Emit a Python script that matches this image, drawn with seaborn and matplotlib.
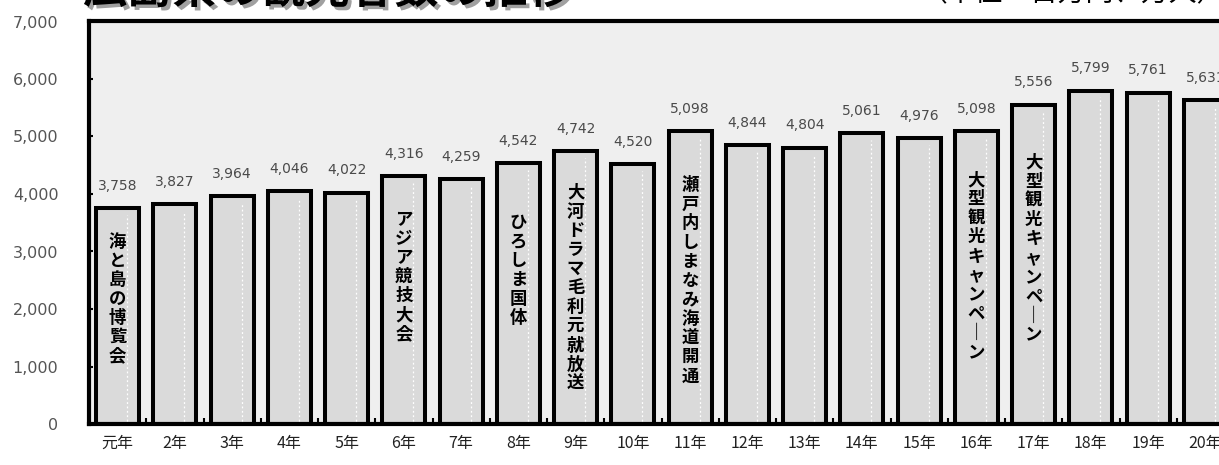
import matplotlib
matplotlib.use("Agg")
import matplotlib.pyplot as plt
import matplotlib.patheffects as pe
from matplotlib.ticker import FixedLocator, FuncFormatter
import seaborn as sns
import pandas as pd

# 年別の観光客数（万人）
years = ["元年", "2年", "3年", "4年", "5年", "6年", "7年", "8年", "9年", "10年",
         "11年", "12年", "13年", "14年", "15年", "16年", "17年", "18年", "19年", "20年"]
visitors = [3758, 3827, 3964, 4046, 4022, 4316, 4259, 4542, 4742, 4520,
            5098, 4844, 4804, 5061, 4976, 5098, 5556, 5799, 5761, 5631]

# 主なイベント
event_years = ["元年", "6年", "8年", "9年", "11年", "16年", "17年"]
event_names = ["海と島の博覧会", "アジア競技大会", "ひろしま国体", "大河ドラマ毛利元就放送",
               "瀬戸内しまなみ海道開通", "大型観光キャンペーン", "大型観光キャンペーン"]

title = "広島県の観光客数の推移"
unit_note = "（単位：百万円、万人）"
y_ticks = [0, 1000, 2000, 3000, 4000, 5000, 6000, 7000]

sns.set_theme(style="white")
plt.rcParams["font.family"] = ["Noto Sans CJK JP", "DejaVu Sans"]

df = pd.DataFrame({"year": years, "visitors": visitors})

fig = plt.figure(figsize=(12.19, 4.65), dpi=100)
fig.patch.set_facecolor("white")
ax = fig.add_axes([89 / 1219, 41 / 465, 1145 / 1219, 402.5 / 465])
ax.set_facecolor("#efefef")

sns.barplot(data=df, x="year", y="visitors", ax=ax, color="#dadada",
            edgecolor="black", linewidth=2.9, width=0.75, saturation=1)

ax.set_xlim(-0.5, len(years) - 0.5)
ax.set_ylim(0, 7000)
ax.set_xlabel("")
ax.set_ylabel("")

# 棒の中の白い点線
for p in ax.patches:
    xv = p.get_x() + 0.72 * p.get_width()
    ax.plot([xv, xv], [60, p.get_height() - 120], color="white", lw=0.9,
            ls=(0, (1.5, 2)), zorder=3)

# 数値ラベル
for p, v in zip(ax.patches, visitors):
    ax.annotate(f"{v:,}", (p.get_x() + p.get_width() / 2, p.get_height()),
                xytext=(0, 11), textcoords="offset points", ha="center",
                va="bottom", fontsize=10, color="#4a4a4a",
                family=["DejaVu Sans"])

# イベント名（縦書き）
event_tops = [3330, 3710, 3660, 4180, 4310, 4400, 4700]
for yr, name, top in zip(event_years, event_names, event_tops):
    xi = years.index(yr)
    vert = "\n".join("｜" if ch == "ー" else ch for ch in name)
    ax.text(xi, top, vert, ha="center", va="top", fontsize=12.5,
            fontweight="bold", color="black", linespacing=1.08, zorder=4)

# 軸と目盛り
for s in ax.spines.values():
    s.set_visible(True)
    s.set_color("black")
    s.set_linewidth(3)

ax.yaxis.set_major_locator(FixedLocator(y_ticks))
ax.yaxis.set_major_formatter(FuncFormatter(lambda v, _: f"{int(v):,}"))
ax.tick_params(axis="y", direction="in", length=3, width=1.5, color="black",
               labelsize=11.5, labelcolor="#555555", pad=22, left=True)
for lab in ax.get_yticklabels():
    lab.set_family(["DejaVu Sans"])

ax.set_xticks(range(len(years)))
ax.set_xticklabels(years)
ax.set_xticks([i + 0.5 for i in range(len(years))], minor=True)
ax.tick_params(axis="x", which="major", length=0, labelsize=11.5,
               labelcolor="#222222", pad=8)
ax.tick_params(axis="x", which="minor", direction="in", length=4, width=1.5,
               color="black", bottom=True)

# タイトルと単位
fig.text(83 / 1219, 1 + 10 / 465, title, ha="left", va="center",
         fontsize=32, fontweight="bold", color="black",
         path_effects=[pe.withSimplePatchShadow(offset=(2.5, -2.5),
                                                shadow_rgbFace="#888888",
                                                alpha=0.8)])
fig.text(1225 / 1219, 1 + 7 / 465, unit_note, ha="right", va="center",
         fontsize=20, color="black")

fig.savefig("out.png", dpi=100)
